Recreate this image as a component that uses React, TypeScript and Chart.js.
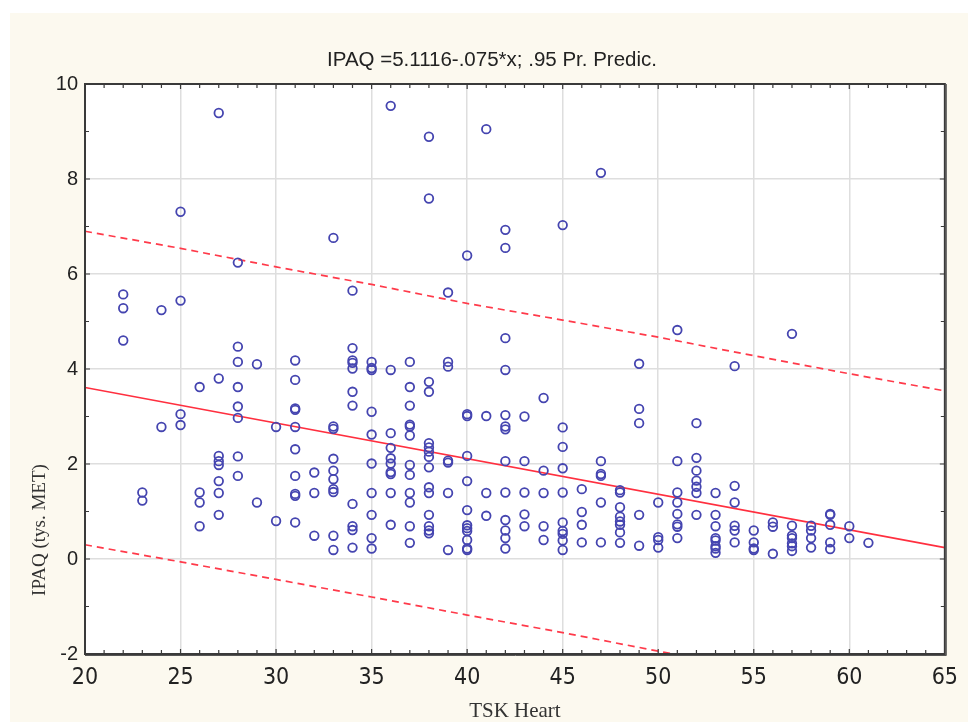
import React, { useEffect, useRef } from 'react';
import { Chart, registerables } from 'chart.js';

Chart.register(...registerables);

const TITLE = 'IPAQ =5.1116-.075*x; .95 Pr. Predic.';
const X_LABEL = 'TSK Heart';
const Y_LABEL = 'IPAQ (tys. MET)';

const X_MIN = 20;
const X_MAX = 65;
const X_STEP = 5;
const Y_MIN = -2;
const Y_MAX = 10;
const Y_STEP = 2;

// TSK Heart scores (x) and the IPAQ values observed at each score
const tskScores = [22, 23, 24, 25, 26, 27, 28, 29, 30, 31, 32, 33, 34, 35, 36, 37, 38, 39, 40, 41, 42, 43, 44, 45, 46, 47, 48, 49, 50, 51, 52, 53, 54, 55, 56, 57, 58, 59, 60, 61];
const ipaqByScore = [
  [5.57, 5.28, 4.6],
  [1.4, 1.23],
  [5.24, 2.78],
  [7.31, 5.44, 3.05, 2.82],
  [3.62, 1.4, 1.19, 0.69],
  [9.39, 3.8, 2.17, 2.06, 1.98, 1.64, 1.39, 0.93],
  [6.24, 4.47, 4.15, 3.62, 3.21, 2.97, 2.16, 1.75],
  [4.1, 1.19],
  [2.78, 0.8],
  [4.18, 3.77, 3.17, 3.14, 2.78, 2.31, 1.75, 1.37, 1.33, 0.77],
  [1.82, 1.39, 0.49],
  [6.76, 2.79, 2.74, 2.11, 1.86, 1.68, 1.47, 1.41, 0.49, 0.19],
  [5.65, 4.44, 4.18, 4.13, 4.01, 3.52, 3.23, 1.16, 0.69, 0.61, 0.24],
  [4.15, 4.02, 3.98, 3.1, 2.62, 2.01, 1.39, 0.93, 0.44, 0.22],
  [9.54, 3.98, 2.65, 2.34, 2.12, 2.01, 1.83, 1.79, 1.39, 0.72],
  [4.15, 3.62, 3.23, 2.83, 2.79, 2.6, 1.98, 1.77, 1.39, 1.19, 0.69, 0.34],
  [8.89, 7.59, 3.73, 3.52, 2.44, 2.35, 2.26, 2.15, 1.93, 1.51, 1.39, 0.93, 0.69, 0.6, 0.54],
  [5.61, 4.15, 4.05, 2.07, 2.03, 1.39, 0.19],
  [6.39, 3.05, 3.01, 2.17, 1.64, 1.03, 0.71, 0.65, 0.59, 0.4, 0.22, 0.19],
  [9.05, 3.01, 1.39, 0.91],
  [6.93, 6.55, 4.65, 3.98, 3.03, 2.79, 2.73, 2.06, 1.4, 0.82, 0.6, 0.44, 0.22],
  [3.0, 2.06, 1.4, 0.94, 0.69],
  [3.39, 1.86, 1.39, 0.69, 0.4],
  [7.03, 2.77, 2.36, 1.91, 1.4, 0.77, 0.59, 0.53, 0.39, 0.19],
  [1.47, 0.99, 0.72, 0.35],
  [8.13, 2.06, 1.79, 1.75, 1.19, 0.35],
  [1.45, 1.4, 1.09, 0.89, 0.79, 0.72, 0.56, 0.34],
  [4.11, 3.16, 2.86, 0.93, 0.28],
  [1.19, 0.46, 0.4, 0.24],
  [4.82, 2.06, 1.4, 1.19, 0.95, 0.73, 0.68, 0.44],
  [2.86, 2.13, 1.86, 1.65, 1.52, 1.39, 0.93],
  [1.39, 0.93, 0.69, 0.44, 0.39, 0.27, 0.22, 0.13],
  [4.06, 1.54, 1.19, 0.7, 0.6, 0.35],
  [0.6, 0.35, 0.22, 0.19],
  [0.77, 0.68, 0.11],
  [4.74, 0.7, 0.49, 0.44, 0.33, 0.27, 0.17],
  [0.7, 0.6, 0.44, 0.24],
  [0.95, 0.93, 0.72, 0.35, 0.21],
  [0.69, 0.44],
  [0.34],
];

// Regression line (endpoints at the axis limits)
const fitX = [20, 65];
const fitY = [3.61, 0.24];

// 0.95 prediction band, read every 5 units
const bandX = [20, 25, 30, 35, 40, 45, 50, 55, 60, 65];
const upperBand = [6.9, 6.54, 6.15, 5.78, 5.38, 5.03, 4.67, 4.28, 3.9, 3.54];
const lowerBand = [0.3, -0.06, -0.43, -0.8, -1.18, -1.55, -1.94, -2.31, -2.69, -3.06];

const NARROW = '"DejaVu Sans Condensed", "Liberation Sans", sans-serif';
const SANS = '"Liberation Sans", Arial, sans-serif';
const SERIF = '"Liberation Serif", "DejaVu Serif", serif';

const decorPlugin = {
  id: 'decor',
  beforeDraw(chart: any) {
    const { ctx, chartArea: a, width, height } = chart;
    ctx.save();
    ctx.fillStyle = '#ffffff';
    ctx.fillRect(0, 0, width, height);
    ctx.fillStyle = '#fcf9ef';
    ctx.fillRect(10, 13, width - 10, height - 13);
    ctx.fillStyle = '#ffffff';
    ctx.fillRect(a.left, a.top, a.right - a.left, a.bottom - a.top);
    ctx.restore();
  },
  afterDraw(chart: any) {
    const { ctx, chartArea: a } = chart;
    const xs = chart.scales.x;
    const ys = chart.scales.y;
    ctx.save();
    // frame
    ctx.strokeStyle = '#3a3a3a';
    ctx.lineWidth = 2;
    ctx.strokeRect(a.left, a.top, a.right - a.left, a.bottom - a.top);
    ctx.strokeStyle = '#555555';
    ctx.lineWidth = 1;
    ctx.beginPath();
    ctx.moveTo(a.right + 1.5, a.top);
    ctx.lineTo(a.right + 1.5, a.bottom + 1.5);
    ctx.lineTo(a.left, a.bottom + 1.5);
    ctx.stroke();
    // inward ticks
    ctx.strokeStyle = '#3a3a3a';
    ctx.lineWidth = 1.2;
    ctx.beginPath();
    for (let v = X_MIN + 1; v < X_MAX; v++) {
      const px = xs.getPixelForValue(v);
      const len = v % X_STEP === 0 ? 5 : 4;
      ctx.moveTo(px, a.top);
      ctx.lineTo(px, a.top + len);
      ctx.moveTo(px, a.bottom);
      ctx.lineTo(px, a.bottom - len);
    }
    for (let v = Y_MIN + 1; v < Y_MAX; v++) {
      const py = ys.getPixelForValue(v);
      const len = v % Y_STEP === 0 ? 5 : 4;
      ctx.moveTo(a.left, py);
      ctx.lineTo(a.left + len, py);
      ctx.moveTo(a.right, py);
      ctx.lineTo(a.right - len, py);
    }
    ctx.stroke();
    // title
    ctx.fillStyle = '#222222';
    ctx.font = `20.5px ${SANS}`;
    ctx.textAlign = 'center';
    ctx.textBaseline = 'middle';
    ctx.fillText(TITLE, 492, 60);
    // x axis label
    ctx.font = `21px ${SERIF}`;
    ctx.fillStyle = '#333333';
    ctx.fillText(X_LABEL, (a.left + a.right) / 2, 711);
    // y axis label
    ctx.save();
    ctx.translate(40, 530);
    ctx.rotate(-Math.PI / 2);
    ctx.font = `19px ${SERIF}`;
    ctx.fillText(Y_LABEL, 0, 0);
    ctx.restore();
    ctx.restore();
  },
};

export default function App() {
  const canvasRef = useRef<HTMLCanvasElement | null>(null);

  useEffect(() => {
    const canvas = canvasRef.current;
    if (!canvas) return;

    const points: { x: number; y: number }[] = [];
    tskScores.forEach((s, i) => {
      ipaqByScore[i].forEach((v) => points.push({ x: s, y: v }));
    });
    const fitData = fitX.map((x, i) => ({ x, y: fitY[i] }));
    const upperData = bandX.map((x, i) => ({ x, y: upperBand[i] }));
    const lowerData = bandX.map((x, i) => ({ x, y: lowerBand[i] }));

    const chart = new Chart(canvas, {
      type: 'scatter',
      data: {
        datasets: [
          {
            label: 'IPAQ',
            data: points,
            pointStyle: 'circle',
            pointRadius: 4.3,
            pointBorderWidth: 1.8,
            pointBorderColor: '#4545b0',
            pointBackgroundColor: 'rgba(0,0,0,0)',
            showLine: false,
          },
          {
            label: 'fit',
            data: fitData,
            showLine: true,
            pointRadius: 0,
            borderColor: '#ff2f3f',
            borderWidth: 1.6,
          },
          {
            label: 'upper',
            data: upperData,
            showLine: true,
            pointRadius: 0,
            borderColor: '#ff3a4a',
            borderWidth: 1.7,
            borderDash: [7, 5],
          },
          {
            label: 'lower',
            data: lowerData,
            showLine: true,
            pointRadius: 0,
            borderColor: '#ff3a4a',
            borderWidth: 1.7,
            borderDash: [7, 5],
          },
        ] as any,
      },
      options: {
        animation: false,
        responsive: false,
        devicePixelRatio: 1,
        layout: { padding: { left: 0, top: 84, right: 13, bottom: 0 } },
        plugins: {
          legend: { display: false },
          tooltip: { enabled: false },
          title: { display: false },
        },
        scales: {
          x: {
            type: 'linear',
            min: X_MIN,
            max: X_MAX,
            afterFit: (s: any) => {
              s.height = 68;
            },
            ticks: {
              stepSize: X_STEP,
              color: '#222222',
              padding: 10,
              font: { family: NARROW, size: 23 },
              maxRotation: 0,
            },
            grid: {
              drawTicks: false,
              lineWidth: 1.5,
              color: (c: any) =>
                c.tick && (c.tick.value === X_MIN || c.tick.value === X_MAX) ? 'rgba(0,0,0,0)' : '#dedede',
            },
            border: { display: false },
          },
          y: {
            type: 'linear',
            min: Y_MIN,
            max: Y_MAX,
            afterFit: (s: any) => {
              s.width = 85;
            },
            ticks: {
              stepSize: Y_STEP,
              color: '#222222',
              padding: 7,
              font: { family: SANS, size: 20 },
            },
            grid: {
              drawTicks: false,
              lineWidth: 1.5,
              color: (c: any) =>
                c.tick && (c.tick.value === Y_MIN || c.tick.value === Y_MAX) ? 'rgba(0,0,0,0)' : '#dedede',
            },
            border: { display: false },
          },
        },
      } as any,
      plugins: [decorPlugin],
    });

    return () => chart.destroy();
  }, []);

  return (
    <div style={{ position: 'absolute', left: 0, top: 0, width: 968, height: 722 }}>
      <canvas ref={canvasRef} width={968} height={722} />
    </div>
  );
}
